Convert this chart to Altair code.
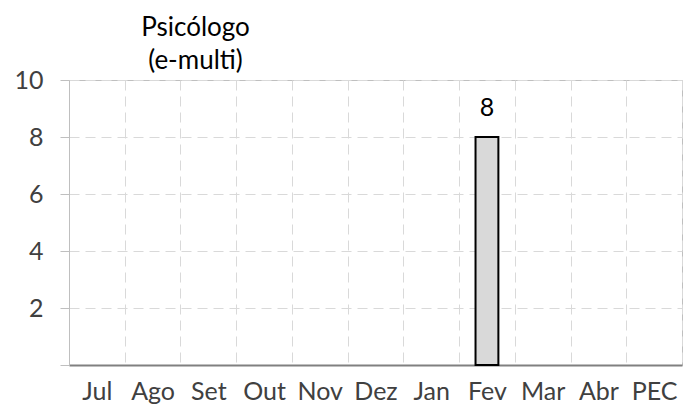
import altair as alt
import pandas as pd

months = ["Jul", "Ago", "Set", "Out", "Nov", "Dez", "Jan", "Fev", "Mar", "Abr", "PEC"]
values = [0, 0, 0, 0, 0, 0, 0, 8, 0, 0, 0]
y_ticks = [0, 2, 4, 6, 8, 10]
title_lines = ["Psicólogo", "(e-multi)"]

df = pd.DataFrame({"mes": months, "valor": values})
FONT = "Lato"
FS = 25

x = alt.X(
    "mes:N",
    sort=months,
    scale=alt.Scale(domain=months, paddingInner=0, paddingOuter=0),
    axis=alt.Axis(
        title=None, labelAngle=0, ticks=False, tickBand="extent",
        grid=True, gridDash=[10, 6], gridColor="#d9d9d9",
        labelFontSize=FS, labelFont=FONT, labelColor="#404040", labelPadding=14,
        domainColor="#808080", domainWidth=2,
    ),
)
y = alt.Y(
    "valor:Q",
    scale=alt.Scale(domain=[0, 10], nice=False),
    axis=alt.Axis(
        title=None, values=y_ticks,
        labelExpr="datum.value == 0 ? '' : datum.label",
        tickSize=9, tickColor="#bfbfbf", labelPadding=17,
        labelFontSize=FS, labelFont=FONT, labelColor="#404040",
        grid=True, gridDash=[10, 6], gridColor="#d9d9d9",
        domainColor="#bfbfbf",
    ),
)

base = alt.Chart(df).transform_filter("datum.valor > 0")
bars = base.mark_bar(
    width=alt.RelativeBandSize(0.41), fill="#d9d9d9", stroke="#000000", strokeWidth=2
).encode(x=x, y=y)
text = base.mark_text(
    dy=-16, baseline="bottom", fontSize=FS, font=FONT, color="#000000"
).encode(x=x, y=y, text="valor:Q")

chart = (
    alt.layer(bars, text)
    .properties(
        width=613,
        height=285,
        autosize=alt.AutoSizeParams(type="none"),
        padding={"left": 61, "top": 72, "right": 7, "bottom": 39},
        title=alt.TitleParams(
            text=title_lines, anchor="middle", dx=-180, dy=12, fontSize=26, font=FONT,
            fontWeight="normal", color="#000000", lineHeight=33, offset=6,
        ),
    )
    .configure_view(stroke="#bfbfbf")
)

chart.save("out.html", embed_options={"renderer": "svg", "actions": False})
